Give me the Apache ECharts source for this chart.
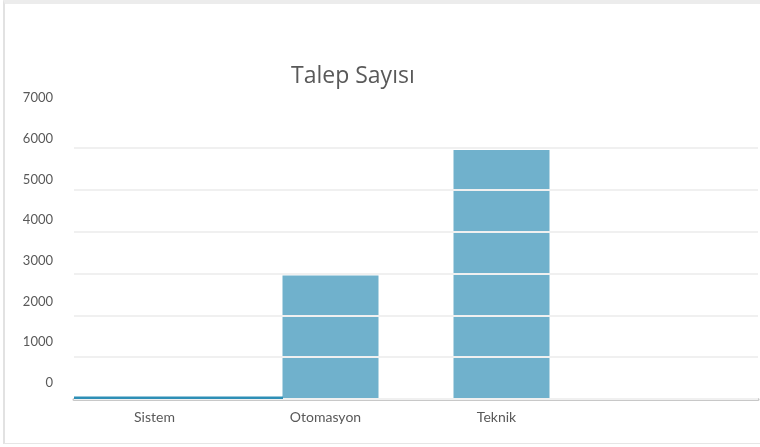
<!DOCTYPE html>
<html>
<head>
<meta charset="utf-8">
<script src="https://cdn.jsdelivr.net/npm/echarts@6/dist/echarts.min.js"></script>
<style>
  html, body { margin: 0; padding: 0; background: #fff; }
  #frame { position: absolute; left: 3px; top: 0; width: 757px; height: 444px;
           border-top: 4px solid #ececec; border-left: 2px solid #e2e2e2; border-bottom: 1px solid #e6e6e6;
           box-sizing: border-box; }
  #chart { position: absolute; left: 0; top: 0; width: 760px; height: 447px; }
</style>
</head>
<body>
<div id="frame"></div>
<div id="chart"></div>
<script>
const titleText = 'Talep Sayısı';
const categories = ['Sistem', 'Otomasyon', 'Teknik', ''];
const talepValues = [60, 2950, 5950, null];
const yMin = 0, yMax = 7000, yStep = 1000;

const mainData = talepValues.map((v, i) => (i === 0 || v === null) ? '-' : v);
const sistemData = talepValues.map((v, i) => i === 0 ? v : '-');

const gridCount = (yMax - yMin) / yStep + 1;
const gridColors = [];
for (let i = 0; i < gridCount; i++) gridColors.push(i === gridCount - 1 ? 'rgba(0,0,0,0)' : '#f0f0f0');

const chart = echarts.init(document.getElementById('chart'), null, { renderer: 'canvas' });
chart.setOption({
  animation: false,
  backgroundColor: 'transparent',
  title: {
    text: titleText,
    left: 286, top: 60,
    textStyle: { fontFamily: 'Open Sans', fontSize: 23, fontWeight: 'normal', color: '#595959' }
  },
  grid: [
    { left: 74, right: 2, top: 106, bottom: 48 },
    { left: 74, right: 2, top: 98, bottom: 64 }
  ],
  xAxis: [
    {
      type: 'category', gridIndex: 0, data: categories, z: 0,
      axisLine: { lineStyle: { color: '#c8c8c8', width: 3 } },
      axisTick: { show: false },
      axisLabel: { margin: 11, fontFamily: 'Lato', fontSize: 14, color: '#595959', padding: [0, 10, 0, 0] }
    },
    { type: 'category', gridIndex: 0, data: categories, show: false },
    { type: 'category', gridIndex: 1, data: categories, show: false }
  ],
  yAxis: [
    {
      type: 'value', gridIndex: 0, min: yMin, max: yMax, interval: yStep, z: 3,
      axisLine: { show: false }, axisTick: { show: false }, axisLabel: { show: false },
      splitLine: { show: true, lineStyle: { color: gridColors, width: 2 } }
    },
    {
      type: 'value', gridIndex: 1, min: yMin, max: yMax, interval: yStep,
      axisLine: { show: false }, axisTick: { show: false }, splitLine: { show: false },
      axisLabel: { margin: 21, fontFamily: 'Lato', fontSize: 13, color: '#595959',
                   formatter: v => String(v) }
    }
  ],
  series: [
    {
      name: titleText, type: 'bar', xAxisIndex: 0, yAxisIndex: 0,
      data: mainData, barWidth: 96,
      itemStyle: { color: '#70b1cc' }
    },
    {
      name: titleText, type: 'bar', xAxisIndex: 1, yAxisIndex: 0, z: 5,
      data: sistemData, barWidth: 247, clip: true,
      itemStyle: { color: '#2e8fb6' }
    }
  ]
});
</script>
</body>
</html>
